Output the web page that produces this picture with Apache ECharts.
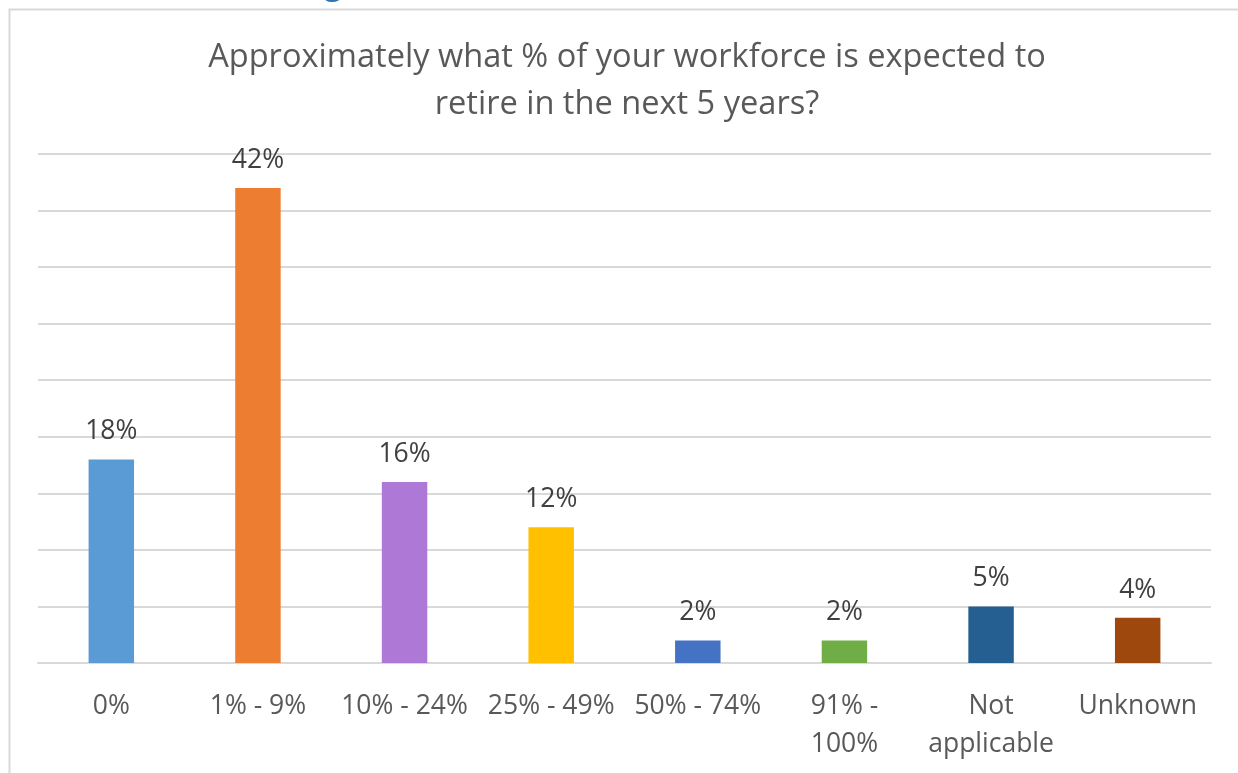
<!DOCTYPE html>
<html>
<head>
<meta charset="utf-8">
<script src="https://cdn.jsdelivr.net/npm/echarts@6/dist/echarts.min.js"></script>
<style>
  html, body { margin: 0; padding: 0; background: #fff; }
  #chart { width: 1238px; height: 773px; }
</style>
</head>
<body>
<div id="chart"></div>
<script>
// Survey answers: share of workforce expected to retire within 5 years
const categories = ['0%', '1% - 9%', '10% - 24%', '25% - 49%', '50% - 74%', '91% -\n100%', 'Not\napplicable', 'Unknown'];
const shares = [18, 42, 16, 12, 2, 2, 5, 4];
const barColors = ['#5B9BD5', '#ED7D31', '#AD78D6', '#FFC000', '#4472C4', '#70AD47', '#255E91', '#9E480E'];
const titleLines = ['Approximately what % of your workforce is expected to', 'retire in the next 5 years?'];

const FONT = '"Open Sans", Lato, sans-serif';
const chart = echarts.init(document.getElementById('chart'), null, { renderer: 'canvas' });

chart.setOption({
  backgroundColor: '#ffffff',
  animation: false,
  graphic: [
    {
      type: 'rect',
      shape: { x: 9.5, y: 9.5, width: 1400, height: 1000 },
      style: { fill: 'none', stroke: '#d9d9d9', lineWidth: 2 },
      silent: true
    },
    {
      type: 'text',
      x: 333, y: 1,
      style: {
        text: 'g', fill: '#2E75B6', font: 'bold 30px ' + FONT,
        textAlign: 'center', textVerticalAlign: 'bottom'
      },
      silent: true
    }
  ],
  title: {
    text: titleLines.join('\n'),
    left: 622,
    top: 29,
    textAlign: 'center',
    textStyle: {
      fontFamily: FONT,
      fontSize: 32.6,
      fontWeight: 'normal',
      color: '#595959',
      lineHeight: 47
    }
  },
  grid: { left: 38, right: 27, top: 154, bottom: 110, containLabel: false },
  xAxis: {
    type: 'category',
    data: categories,
    axisLine: { show: true, lineStyle: { color: '#d9d9d9', width: 2 } },
    axisTick: { show: false },
    axisLabel: {
      interval: 0,
      margin: 24,
      fontFamily: FONT,
      fontSize: 26.5,
      color: '#595959',
      lineHeight: 38
    }
  },
  yAxis: {
    type: 'value',
    min: 0,
    max: 45,
    interval: 5,
    axisLabel: { show: false },
    axisLine: { show: false },
    axisTick: { show: false },
    splitLine: { lineStyle: { color: '#d9d9d9', width: 2 } }
  },
  series: [{
    type: 'bar',
    data: shares.map((v, i) => ({ value: v, itemStyle: { color: barColors[i] } })),
    barWidth: '31%',
    label: {
      show: true,
      position: 'top',
      distance: 14,
      formatter: p => p.value + '%',
      fontFamily: FONT,
      fontSize: 26.5,
      color: '#404040'
    }
  }]
});
</script>
</body>
</html>
